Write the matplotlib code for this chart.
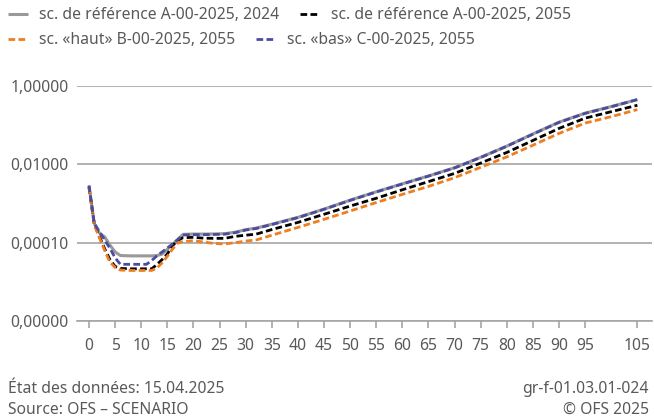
import matplotlib
matplotlib.use("Agg")
import matplotlib.pyplot as plt
from matplotlib.ticker import FuncFormatter, NullLocator

plt.rcParams['font.family'] = ['Noto Sans', 'DejaVu Sans']

# Ages
ages = [0, 1, 2, 3, 4, 5, 6, 8, 10, 11, 12, 13, 14, 15, 16, 17, 18, 20, 22, 24, 26,
        28, 30, 32, 35, 40, 45, 50, 55, 60, 65, 70, 75, 80, 85, 90, 95, 100, 105]

# sc. de référence A-00-2025, 2024
ref_2024 = [2.8e-3, 3.1e-4, 1.75e-4, 1.4e-4, 8.7e-5, 5.8e-5, 4.7e-5, 4.6e-5, 4.6e-5, 4.6e-5,
            4.6e-5, 4.7e-5, 5.1e-5, 6.8e-5, 9.1e-5, 1.21e-4, 1.63e-4, 1.66e-4, 1.66e-4,
            1.67e-4, 1.7e-4, 1.85e-4, 2.15e-4, 2.35e-4, 2.96e-4, 4.43e-4, 7.18e-4, 1.22e-3,
            1.99e-3, 3.18e-3, 5.06e-3, 8.18e-3, 0.0151, 0.0291, 0.0598, 0.119, 0.203, 0.299, 0.45]

# sc. de référence A-00-2025, 2055
ref_2055 = [2.6e-3, 3.0e-4, 1.42e-4, 7.0e-5, 3.7e-5, 2.47e-5, 2.2e-5, 2.15e-5, 2.15e-5, 2.15e-5,
            2.15e-5, 2.75e-5, 3.7e-5, 5.15e-5, 8.4e-5, 1.15e-4, 1.34e-4, 1.37e-4, 1.3e-4,
            1.29e-4, 1.29e-4, 1.45e-4, 1.55e-4, 1.65e-4, 2.16e-4, 3.29e-4, 5.3e-4, 8.6e-4,
            1.36e-3, 2.24e-3, 3.62e-3, 5.86e-3, 0.0108, 0.0201, 0.0407, 0.0826, 0.151, 0.221, 0.322]

# sc. «haut» B-00-2025, 2055
haut_2055 = [2.6e-3, 2.9e-4, 1.32e-4, 6.3e-5, 3.2e-5, 2.33e-5, 2.0e-5, 1.95e-5, 1.95e-5, 1.95e-5,
             1.95e-5, 2.25e-5, 3.05e-5, 4.5e-5, 6.9e-5, 9.8e-5, 1.07e-4, 1.12e-4, 1.04e-4,
             9.5e-5, 9.3e-5, 1.0e-4, 1.1e-4, 1.17e-4, 1.55e-4, 2.45e-4, 3.94e-4, 6.43e-4,
             1.06e-3, 1.71e-3, 2.73e-3, 4.56e-3, 8.4e-3, 0.0155, 0.0308, 0.0616, 0.113, 0.165, 0.25]

# sc. «bas» C-00-2025, 2055
bas_2055 = [2.9e-3, 3.1e-4, 1.9e-4, 1.17e-4, 7.2e-5, 4.1e-5, 2.8e-5, 2.8e-5, 2.8e-5, 2.8e-5,
            3.5e-5, 4.6e-5, 5.8e-5, 7.3e-5, 9.3e-5, 1.2e-4, 1.57e-4, 1.6e-4, 1.6e-4,
            1.62e-4, 1.65e-4, 1.8e-4, 2.1e-4, 2.3e-4, 2.9e-4, 4.35e-4, 7.1e-4, 1.2e-3,
            1.97e-3, 3.15e-3, 5.0e-3, 8.1e-3, 0.015, 0.029, 0.059, 0.118, 0.2, 0.295, 0.45]

x_ticks = [0, 5, 10, 15, 20, 25, 30, 35, 40, 45, 50, 55, 60, 65, 70, 75, 80, 85, 90, 95, 105]
y_ticks = [1e-6, 1e-4, 1e-2, 1]

text_col = '#595959'
grid_col = '#a6a6a6'
dash = (0, (2.4, 1.2))
fs = 11.3

fig = plt.figure(figsize=(6.54, 4.19), dpi=100)
ax = fig.add_axes([77 / 654, 1 - 321 / 419, (652 - 77) / 654, (321 - 86) / 419])

l1, = ax.plot(ages, ref_2024, color='#999999', lw=2.2, solid_capstyle='butt')
l2, = ax.plot(ages, ref_2055, color='black', lw=2.0, linestyle=dash)
l3, = ax.plot(ages, haut_2055, color='#f07d1e', lw=2.0, linestyle=dash)
l4, = ax.plot(ages, bas_2055, color='#4b4ba0', lw=2.0, linestyle=dash)

ax.set_yscale('log')
ax.set_ylim(1e-6, 1)
ax.set_xlim(-2.3, 107.8)
ax.set_yticks(y_ticks)
ax.yaxis.set_minor_locator(NullLocator())
ax.yaxis.set_major_formatter(FuncFormatter(lambda v, p: f"{v:.5f}".replace('.', ',')))
ax.set_xticks(x_ticks)
ax.set_xticklabels([str(t) for t in x_ticks])

ax.grid(axis='y', color=grid_col, lw=1.2)
ax.set_axisbelow(True)
for s in ['top', 'right', 'left']:
    ax.spines[s].set_visible(False)
ax.spines['bottom'].set_color(grid_col)
ax.spines['bottom'].set_linewidth(1.2)
ax.tick_params(axis='y', length=0, pad=6, labelsize=fs, labelcolor=text_col)
ax.tick_params(axis='x', length=5, width=1.2, color=grid_col, pad=7, labelsize=fs, labelcolor=text_col)

# legend in two rows, flowing like the original
leg_kw = dict(loc='upper left', ncol=2, frameon=False, fontsize=fs, handlelength=1.3,
              handletextpad=0.7, columnspacing=1.3, borderpad=0, borderaxespad=0, labelcolor=text_col)
fig.legend([l1, l2], ['sc. de référence A-00-2025, 2024', 'sc. de référence A-00-2025, 2055'],
           bbox_to_anchor=(8 / 654, 1 - 7 / 419), **leg_kw)
fig.legend([l3, l4], ['sc. «haut» B-00-2025, 2055', 'sc. «bas» C-00-2025, 2055'],
           bbox_to_anchor=(8 / 654, 1 - 32 / 419), **leg_kw)

# footer
fig.text(8 / 654, 1 - 389 / 419, 'État des données: 15.04.2025', fontsize=fs, color=text_col, va='center')
fig.text(8 / 654, 1 - 410 / 419, 'Source: OFS – SCENARIO', fontsize=fs, color=text_col, va='center')
fig.text(649 / 654, 1 - 389 / 419, 'gr-f-01.03.01-024', fontsize=fs, color=text_col, va='center', ha='right')
fig.text(649 / 654, 1 - 410 / 419, '© OFS 2025', fontsize=fs, color=text_col, va='center', ha='right')

fig.savefig('out.png', dpi=100)
